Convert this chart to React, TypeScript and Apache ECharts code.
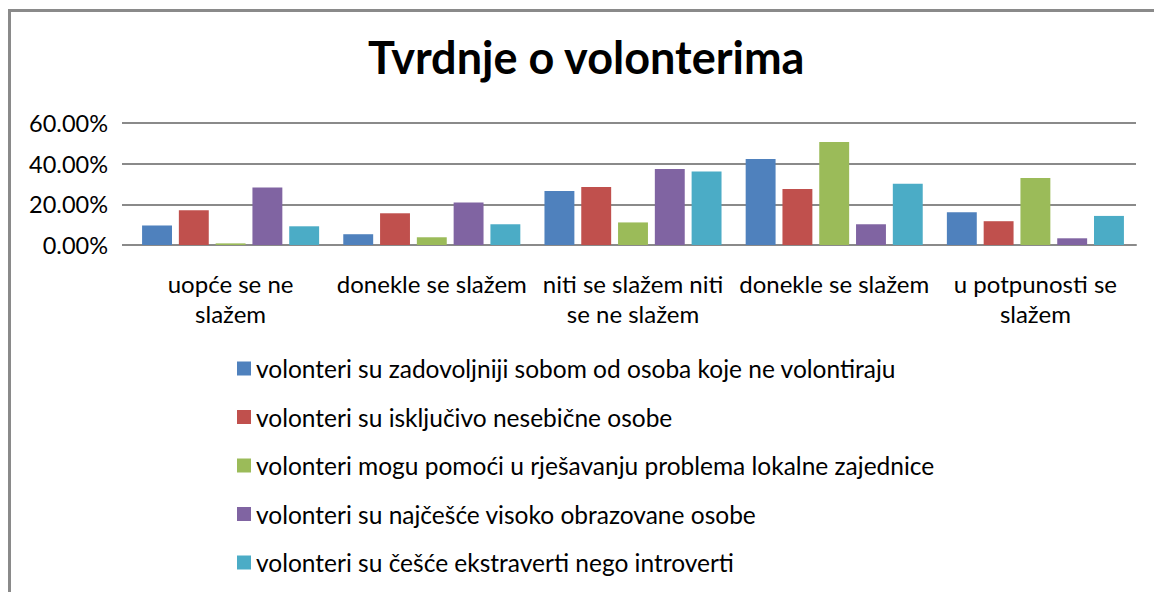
import React, { useEffect, useRef } from "react";
import * as echarts from "echarts";

const categories = [
  "uopće se ne slažem",
  "donekle se slažem",
  "niti se slažem niti se ne slažem",
  "donekle se slažem ",
  "u potpunosti se slažem",
];
const categoryLabels = [
  "uopće se ne\nslažem",
  "donekle se slažem",
  "niti se slažem niti\nse ne slažem",
  "donekle se slažem",
  "u potpunosti se\nslažem",
];
const seriesNames = [
  "volonteri su zadovoljniji sobom od osoba koje ne volontiraju",
  "volonteri su isključivo nesebične osobe",
  "volonteri mogu pomoći u rješavanju problema lokalne zajednice",
  "volonteri su najčešće visoko obrazovane osobe",
  "volonteri su češće ekstraverti nego introverti",
];
const s1 = [9.6, 5.3, 26.5, 42.3, 16.1];
const s2 = [17.1, 15.6, 28.5, 27.5, 11.7];
const s3 = [0.8, 3.8, 11.1, 50.7, 32.9];
const s4 = [28.3, 20.9, 37.4, 10.2, 3.3];
const s5 = [9.2, 10.2, 36.2, 30.1, 14.3];
const yTicks = [0, 20, 40, 60];
const colors = ["#4F81BD", "#C0504D", "#9BBB59", "#8064A2", "#4BACC6"];

const FONT = "Lato, 'Open Sans', sans-serif";

export default function App() {
  const ref = useRef<HTMLDivElement>(null);
  useEffect(() => {
    if (!ref.current) return;
    const chart = echarts.init(ref.current, null, { renderer: "svg" });
    const all = [s1, s2, s3, s4, s5];
    chart.setOption({
      animation: false,
      backgroundColor: "#ffffff",
      title: {
        text: "Tvrdnje o volonterima",
        left: 368,
        top: 34,
        padding: 0,
        textStyle: { fontFamily: FONT, fontSize: 45, fontWeight: "bold", color: "#000" },
      },
      graphic: [
        {
          type: "rect",
          shape: { x: 9.5, y: 10.5, width: 1300, height: 800 },
          style: { fill: "none", stroke: "#8a8a8a", lineWidth: 3 },
          silent: true,
        },
      ],
      legend: {
        orient: "vertical",
        left: 237,
        top: 356,
        padding: 0,
        itemWidth: 14,
        itemHeight: 14,
        itemGap: 23.5,
        icon: "rect",
        textStyle: { fontFamily: FONT, fontSize: 24.5, color: "#000" },
        data: seriesNames,
      },
      grid: { left: 130, right: 18, top: 123, bottom: 347, containLabel: false },
      xAxis: {
        type: "category",
        data: categories,
        axisLine: { lineStyle: { color: "#8a8a8a", width: 2 } },
        axisTick: { show: false },
        axisLabel: {
          interval: 0,
          margin: 23,
          lineHeight: 30,
          fontFamily: FONT,
          fontSize: 24,
          color: "#000",
          formatter: (_v: string, i: number) => categoryLabels[i],
        },
      },
      yAxis: {
        type: "value",
        min: yTicks[0],
        max: yTicks[yTicks.length - 1],
        interval: 20,
        axisLine: { show: false },
        axisTick: { show: true, length: 8, lineStyle: { color: "#8a8a8a", width: 2 } },
        splitLine: { lineStyle: { color: "#8a8a8a", width: 2 } },
        axisLabel: {
          margin: 22,
          fontFamily: FONT,
          fontSize: 23.5,
          color: "#000",
          formatter: (v: number) => v.toFixed(2) + "%",
        },
      },
      series: seriesNames.map((name, i) => ({
        name,
        type: "bar",
        data: all[i],
        barGap: "23%",
        barCategoryGap: "12%",
        itemStyle: { color: colors[i] },
      })),
    });
    return () => chart.dispose();
  }, []);
  return (
    <div
      ref={ref}
      style={{ position: "absolute", left: 0, top: 0, width: 1154, height: 592 }}
    />
  );
}
